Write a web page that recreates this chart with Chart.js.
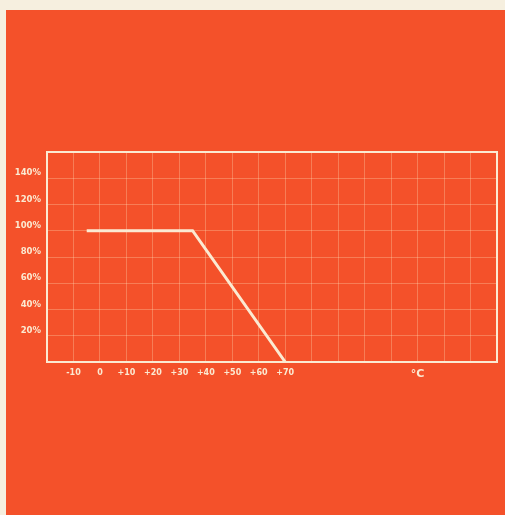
<!DOCTYPE html>
<html>
<head>
<meta charset="utf-8">
<script src="https://cdn.jsdelivr.net/npm/chart.js@4/dist/chart.umd.min.js"></script>
<style>
  html, body { margin: 0; padding: 0; background: #f6efdf; width: 505px; height: 515px; overflow: hidden; }
  #panel { position: absolute; left: 6px; top: 10px; width: 499px; height: 505px; background: #f4512a; }
  canvas { display: block; }
</style>
</head>
<body>
<div id="panel"><canvas id="c" width="499" height="505"></canvas></div>
<script>
// Data
const temperatures = [-5, 35, 70];          // °C
const loadPercent  = [100, 100, 0];         // %
const xTickLabels = { '-10': '-10', '0': '0', '10': '+10', '20': '+20', '30': '+30', '40': '+40', '50': '+50', '60': '+60', '70': '+70', '120': '°C' };
const yTickLabels = { '20': '20%', '40': '40%', '60': '60%', '80': '80%', '100': '100%', '120': '120%', '140': '140%' };

const cream = '#fbead2';
const gridCol = 'rgba(255,228,190,0.30)';

const frame = {
  id: 'frame',
  afterDraw(chart) {
    const { ctx, chartArea: a } = chart;
    ctx.save();
    ctx.strokeStyle = cream;
    ctx.lineWidth = 2;
    ctx.strokeRect(a.left, a.top, a.right - a.left, a.bottom - a.top);
    ctx.restore();
  }
};

new Chart(document.getElementById('c'), {
  type: 'scatter',
  data: {
    datasets: [{
      data: temperatures.map((t, i) => ({ x: t, y: loadPercent[i] })),
      showLine: true,
      borderColor: cream,
      borderWidth: 3,
      pointRadius: 0,
      tension: 0
    }]
  },
  options: {
    responsive: false,
    animation: false,
    layout: { padding: { left: 0, right: 8, top: 142, bottom: 133 } },
    plugins: { legend: { display: false }, tooltip: { enabled: false } },
    scales: {
      x: {
        type: 'linear', min: -20, max: 150,
        afterFit(s) { s.height = 20; },
        grid: { color: gridCol, lineWidth: 1, drawTicks: false },
        border: { display: false },
        ticks: {
          stepSize: 10, autoSkip: false, maxRotation: 0, padding: 6,
          color: cream,
          font: ctx => ({ family: 'DejaVu Sans', size: (ctx.tick && ctx.tick.value === 120) ? 11 : 8, weight: 'bold' }),
          callback: v => xTickLabels[String(v)] || ''
        }
      },
      y: {
        type: 'linear', min: 0, max: 160,
        afterFit(s) { s.width = 41; },
        grid: { color: gridCol, lineWidth: 1, drawTicks: false },
        border: { display: false },
        ticks: {
          stepSize: 20, padding: 6, labelOffset: -5,
          color: cream, font: { family: 'DejaVu Sans', size: 8.5, weight: 'bold' },
          callback: v => yTickLabels[String(v)] || ''
        }
      }
    }
  },
  plugins: [frame]
});
</script>
</body>
</html>
